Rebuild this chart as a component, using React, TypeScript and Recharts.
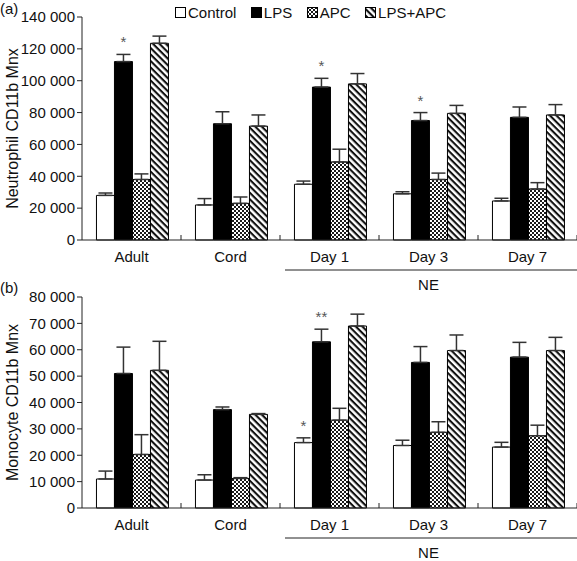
import React from 'react';
import { BarChart, Bar, XAxis, YAxis, ErrorBar, LabelList } from 'recharts';

const FONT = '"Liberation Sans", Arial, Helvetica, sans-serif';

// ---------- data ----------
const categories = ['Adult', 'Cord', 'Day 1', 'Day 3', 'Day 7'];
const neGroup = ['Day 1', 'Day 3', 'Day 7'];
const neLabel = 'NE';

const seriesNames = ['Control', 'LPS', 'APC', 'LPS+APC'];

// (a) Neutrophil CD11b Mnx
const neutControl = [28000, 22000, 35000, 29000, 24500];
const neutControlErr = [1500, 4000, 2000, 1300, 1700];
const neutLps = [112000, 73000, 96000, 75000, 77000];
const neutLpsErr = [4500, 7500, 5500, 5000, 6500];
const neutApc = [38000, 23000, 49000, 38000, 32000];
const neutApcErr = [3500, 4000, 8000, 4000, 4000];
const neutLpsApc = [123500, 71500, 98000, 79500, 78500];
const neutLpsApcErr = [4500, 7000, 6500, 5000, 6500];
const neutLpsStars = ['*', '', '*', '*', ''];
const neutTicks = [0, 20000, 40000, 60000, 80000, 100000, 120000, 140000];

// (b) Monocyte CD11b Mnx
const monoControl = [11000, 10600, 24800, 23700, 23100];
const monoControlErr = [3000, 2000, 1800, 2000, 1800];
const monoLps = [51000, 37300, 63000, 55200, 57200];
const monoLpsErr = [10000, 1000, 4800, 6000, 5600];
const monoApc = [20300, 11200, 33300, 28700, 27400];
const monoApcErr = [7500, 300, 4500, 4000, 4000];
const monoLpsApc = [52200, 35500, 69000, 59700, 59700];
const monoLpsApcErr = [11000, 300, 4500, 5900, 5000];
const monoControlStars = ['', '', '*', '', ''];
const monoLpsStars = ['', '', '**', '', ''];
const monoTicks = [0, 10000, 20000, 30000, 40000, 50000, 60000, 70000, 80000];

const buildRows = (c: number[], ce: number[], l: number[], le: number[], a: number[], ae: number[], la: number[], lae: number[]) =>
  categories.map((cat, i) => ({
    cat,
    control: c[i], controlErr: [0, ce[i]],
    lps: l[i], lpsErr: [0, le[i]],
    apc: a[i], apcErr: [0, ae[i]],
    lpsApc: la[i], lpsApcErr: [0, lae[i]],
  }));

const neutData = buildRows(neutControl, neutControlErr, neutLps, neutLpsErr, neutApc, neutApcErr, neutLpsApc, neutLpsApcErr);
const monoData = buildRows(monoControl, monoControlErr, monoLps, monoLpsErr, monoApc, monoApcErr, monoLpsApc, monoLpsApcErr);

// ---------- helpers ----------
const fmt = (v: number) => String(v).replace(/\B(?=(\d{3})+(?!\d))/g, ' ');

const FILLS = ['#ffffff', '#000000', 'url(#apcPat)', 'url(#stripePat)'];

function CatTick(props: any) {
  const { x, y, payload, width, visibleTicksCount } = props;
  const half = payload && typeof payload.offset === 'number' && payload.offset > 0
    ? payload.offset
    : width / (visibleTicksCount || categories.length) / 2;
  const label = payload.value;
  const gi = neGroup.indexOf(label);
  const mid = Math.floor(neGroup.length / 2);
  return (
    <g>
      <text x={x} y={y + 21.5} textAnchor="middle" fontSize={15} fontFamily={FONT} fill="#111">{label}</text>
      <line x1={x + half} x2={x + half} y1={y} y2={y - 5} stroke="#222" strokeWidth={1} />
      {gi >= 0 && (
        <line x1={gi === 0 ? x - half + 5 : x - half} x2={x + half} y1={y + 30} y2={y + 30} stroke="#222" strokeWidth={1} />
      )}
      {gi === mid && (
        <text x={x} y={y + 50} textAnchor="middle" fontSize={15} fontFamily={FONT} fill="#111">{neLabel}</text>
      )}
    </g>
  );
}

const starContent = (stars: string[], errs: number[], vals: number[]) => (p: any) => {
  const vb = p.viewBox || p;
  const idx = p.index;
  if (idx == null || !stars[idx]) return null;
  const x = vb.x ?? p.x;
  const y = vb.y ?? p.y;
  const w = vb.width ?? p.width;
  const h = vb.height ?? p.height;
  const pxPerUnit = Math.abs(h) / vals[idx];
  const errTop = y - errs[idx] * pxPerUnit;
  return (
    <text x={x + w / 2} y={errTop - 7} textAnchor="middle" fontSize={15} fontFamily={FONT} fill="#555">{stars[idx]}</text>
  );
};

const yTitle = (title: string) => ({
  content: (p: any) => {
    const vb = p.viewBox || {};
    const cx = (vb.x || 0) + 12;
    const cy = (vb.y || 0) + (vb.height || 0) / 2;
    return (
      <text transform={`translate(${cx}, ${cy}) rotate(-90)`} textAnchor="middle" dominantBaseline="central" fontSize={16} fontFamily={FONT} fill="#111">{title}</text>
    );
  },
});

function Panel(props: { data: any[]; ticks: number[]; title: string; height: number; marginTop: number; xHeight: number; stars: { control?: string[]; lps?: string[] }; errs: number[][]; vals: number[][] }) {
  const { data, ticks, title, height, marginTop, xHeight, stars, errs, vals } = props;
  const keys = ['control', 'lps', 'apc', 'lpsApc'];
  const starMap: any = { control: stars.control, lps: stars.lps };
  return (
    <BarChart width={577} height={height} data={data} margin={{ top: marginTop, right: 0, left: 0, bottom: 0 }} barCategoryGap="14.6%" barGap={0}>
      <XAxis dataKey="cat" height={xHeight} interval={0} tickLine={false} tickSize={0} tickMargin={0} axisLine={{ stroke: '#222' }} tick={<CatTick />} />
      <YAxis type="number" domain={[0, ticks[ticks.length - 1]]} ticks={ticks} interval={0} width={82} tickSize={5} tickMargin={2}
        tickFormatter={fmt} axisLine={{ stroke: '#222' }} tickLine={{ stroke: '#222' }}
        tick={{ fontSize: 15, fontFamily: FONT, fill: '#111' }} label={yTitle(title)} />
      {keys.map((k, i) => (
        <Bar key={k} dataKey={k} name={seriesNames[i]} fill={FILLS[i]} stroke="#000" strokeWidth={1} isAnimationActive={false}>
          <ErrorBar dataKey={k + 'Err'} width={7} stroke="#333" strokeWidth={1.5} direction="y" />
          {starMap[k] && <LabelList dataKey={k} content={starContent(starMap[k], errs[i], vals[i])} />}
        </Bar>
      ))}
    </BarChart>
  );
}

function LegendSwatch({ fill }: { fill: string }) {
  return (
    <svg width={12} height={11} style={{ display: 'block' }}>
      <rect x={0.5} y={0.5} width={10} height={10} fill={fill} stroke="#000" strokeWidth={1} />
    </svg>
  );
}

export default function App() {
  return (
    <div style={{ position: 'absolute', left: 0, top: 0, width: 577, height: 561, background: '#fff', fontFamily: FONT, color: '#111', overflow: 'hidden' }}>
      <svg width={0} height={0} style={{ position: 'absolute' }}>
        <defs>
          <pattern id="apcPat" patternUnits="userSpaceOnUse" width={4} height={4}>
            <rect x={0} y={0} width={4} height={4} fill="#fff" />
            <rect x={0} y={0} width={2} height={2} fill="#1a1a1a" />
            <rect x={2} y={2} width={2} height={2} fill="#1a1a1a" />
          </pattern>
          <pattern id="stripePat" patternUnits="userSpaceOnUse" width={4.6} height={4.6} patternTransform="rotate(45)">
            <rect x={0} y={0} width={4.6} height={4.6} fill="#fff" />
            <rect x={0} y={0} width={4.6} height={2.1} fill="#111" />
          </pattern>
        </defs>
      </svg>

      <div style={{ position: 'absolute', left: 0, top: 0, fontSize: 15 }}>(a)</div>
      <div style={{ position: 'absolute', left: 0, top: 279, fontSize: 15 }}>(b)</div>

      <div style={{ position: 'absolute', left: 175, top: 4, display: 'flex', alignItems: 'center', fontSize: 15, lineHeight: '17px', whiteSpace: 'nowrap' }}>
        {seriesNames.map((n, i) => (
          <div key={n} style={{ display: 'flex', alignItems: 'center', marginRight: 14.5 }}>
            <LegendSwatch fill={FILLS[i]} />
            <span style={{ marginLeft: 1 }}>{n}</span>
          </div>
        ))}
      </div>

      <div style={{ position: 'absolute', left: 0, top: 0 }}>
        <Panel data={neutData} ticks={neutTicks} title="Neutrophil CD11b Mnx" height={300} marginTop={17} xHeight={60}
          stars={{ lps: neutLpsStars }}
          errs={[neutControlErr, neutLpsErr, neutApcErr, neutLpsApcErr]}
          vals={[neutControl, neutLps, neutApc, neutLpsApc]} />
      </div>
      <div style={{ position: 'absolute', left: 0, top: 275 }}>
        <Panel data={monoData} ticks={monoTicks} title="Monocyte CD11b Mnx" height={286} marginTop={22} xHeight={53}
          stars={{ control: monoControlStars, lps: monoLpsStars }}
          errs={[monoControlErr, monoLpsErr, monoApcErr, monoLpsApcErr]}
          vals={[monoControl, monoLps, monoApc, monoLpsApc]} />
      </div>
    </div>
  );
}
